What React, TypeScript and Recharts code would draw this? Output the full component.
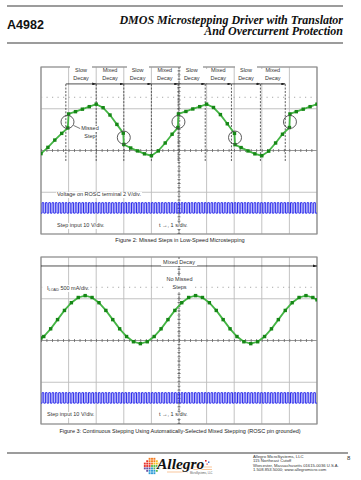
import React from 'react';
import {
  ComposedChart,
  Line,
  XAxis,
  YAxis,
  CartesianGrid,
  ReferenceLine,
  ReferenceDot,
  ReferenceArea,
} from 'recharts';

// scope screen: 10 x 8 divisions, values below are in divisions

const xTicks = [0, 1, 2, 3, 4, 5, 6, 7, 8, 9, 10];
const yTicks = [0, 1, 2, 3, 4, 5, 6, 7, 8];

// figure 2 - load current with missed steps (pairs at the jumps)
const fig2Time = [
  0, 0.25, 0.5, 0.75, 0.97, 1.0, 1.25, 1.5, 1.75, 2.0, 2.25, 2.5, 2.75, 2.98, 3.0, 3.25,
  3.5, 3.75, 4.0, 4.25, 4.5, 4.75, 4.96, 4.98, 5.25, 5.5, 5.75, 6.0, 6.25, 6.5, 6.75, 7.01,
  7.03, 7.25, 7.5, 7.75, 8.0, 8.25, 8.5, 8.75, 9.0, 9.02, 9.25, 9.5, 9.75, 10,
];
const fig2Current = [
  3.85, 4.15, 4.5, 4.82, 5.08, 5.75, 5.86, 5.98, 6.1, 6.22, 6.05, 5.7, 5.25, 4.83, 4.29, 4.12,
  3.98, 3.84, 3.75, 3.98, 4.36, 4.78, 5.1, 5.75, 5.87, 5.99, 6.1, 6.22, 6.06, 5.72, 5.28, 4.82,
  4.28, 4.14, 3.98, 3.84, 3.75, 3.97, 4.36, 4.78, 5.1, 5.75, 5.86, 5.98, 6.1, 6.22,
];
const fig2DecayEdges = [0.9, 2.0, 3.0, 4.0, 4.97, 5.95, 6.9, 7.95, 8.85];
const fig2DecayNames = ['Slow', 'Mixed', 'Slow', 'Mixed', 'Slow', 'Mixed', 'Slow', 'Mixed'];
const missedTime = [0.96, 3.0, 4.98, 7.03, 9.02];
const missedLevel = [5.37, 4.62, 5.37, 4.62, 5.37];

// figure 3 - load current, no missed steps
const fig3Time = [
  0, 0.1, 0.35, 0.6, 0.85, 1.1, 1.35, 1.6, 1.85, 2.1, 2.35, 2.6, 2.85, 3.1, 3.35, 3.6,
  3.85, 4.1, 4.35, 4.6, 4.85, 5.1, 5.35, 5.6, 5.85, 6.1, 6.35, 6.6, 6.85, 7.1, 7.35, 7.6,
  7.85, 8.1, 8.35, 8.6, 8.85, 9.1, 9.35, 9.6, 9.85, 10,
];
const fig3Current = [
  4.12, 4.19, 4.56, 5.0, 5.44, 5.81, 6.06, 6.15, 6.06, 5.81, 5.44, 5.0, 4.56, 4.19, 3.94, 3.85,
  3.94, 4.19, 4.56, 5.0, 5.44, 5.81, 6.06, 6.15, 6.06, 5.81, 5.44, 5.0, 4.56, 4.19, 3.94, 3.85,
  3.94, 4.19, 4.56, 5.0, 5.44, 5.81, 6.06, 6.15, 6.06, 5.95,
];

// step input pulse train (rising edges)
const stepRise = [
  0.04, 0.16, 0.28, 0.4, 0.52, 0.64, 0.76, 0.88, 1.0, 1.12, 1.24, 1.36, 1.48, 1.6, 1.72, 1.84,
  1.96, 2.08, 2.2, 2.32, 2.44, 2.56, 2.68, 2.8, 2.92, 3.04, 3.16, 3.28, 3.4, 3.52, 3.64, 3.76,
  3.88, 4.0, 4.12, 4.24, 4.36, 4.48, 4.6, 4.72, 4.84, 4.96, 5.08, 5.2, 5.32, 5.44, 5.56, 5.68,
  5.8, 5.92, 6.04, 6.16, 6.28, 6.4, 6.52, 6.64, 6.76, 6.88, 7.0, 7.12, 7.24, 7.36, 7.48, 7.6,
  7.72, 7.84, 7.96, 8.08, 8.2, 8.32, 8.44, 8.56, 8.68, 8.8, 8.92, 9.04, 9.16, 9.28, 9.4, 9.52,
  9.64, 9.76, 9.88,
];
const pulseHigh = 1.5;
const pulseLow = 1.0;
const pulseWidth = 0.06;

const pulseData: { t: number; v: number }[] = [{ t: 0, v: pulseLow }];
stepRise.forEach((r) => {
  pulseData.push({ t: r, v: pulseHigh }, { t: r + pulseWidth, v: pulseLow });
});
pulseData.push({ t: 10, v: pulseLow });

const fig2Data = fig2Time.map((t, i) => ({ t, v: fig2Current[i] }));
const fig3Data = fig3Time.map((t, i) => ({ t, v: fig3Current[i] }));

const PLOT_LEFT = 41;
const PLOT_W = 276;
const PLOT_H = 167;
const M = 10;
const GREEN = '#45b545';
const DARK_GREEN = '#168716';
const BLUE = '#2c2cec';

const px = (t: number) => PLOT_LEFT + (t * PLOT_W) / 10;

const squareDot = (p: any) => {
  if (p.cx == null || p.cy == null) return <g key={`n${p.index}`} />;
  return (
    <rect
      key={`d${p.index}`}
      x={p.cx - 1.7}
      y={p.cy - 1.7}
      width={3.4}
      height={3.4}
      fill={DARK_GREEN}
    />
  );
};

const Scope = ({ top, arrowId, children }: any) => (
  <div style={{ position: 'absolute', left: PLOT_LEFT - M, top: top - M }}>
    <ComposedChart
      width={PLOT_W + 2 * M}
      height={PLOT_H + 2 * M}
      margin={{ top: M, right: M, bottom: M, left: M }}
    >
      <defs>
        <marker
          id={arrowId}
          markerWidth={4}
          markerHeight={3}
          refX={4}
          refY={1.5}
          orient="auto"
          markerUnits="userSpaceOnUse"
        >
          <path d="M0,0 L4,1.5 L0,3 z" fill="#222" />
        </marker>
      </defs>
      <CartesianGrid stroke="#bcbcbc" strokeWidth={0.9} />
      <XAxis type="number" dataKey="t" domain={[0, 10]} ticks={xTicks} hide allowDataOverflow />
      <YAxis type="number" dataKey="v" domain={[0, 8]} ticks={yTicks} hide allowDataOverflow />
      <ReferenceLine y={6.55} stroke="#a8a8a8" strokeDasharray="1.2 4.3" />
      <ReferenceLine y={4} stroke="#8a8a8a" strokeWidth={0.8} />
      <ReferenceLine y={4} stroke="#666" strokeWidth={3} strokeDasharray="0.8 4.72" />
      <ReferenceLine x={5} stroke="#555" strokeWidth={0.9} strokeDasharray="1.6 1.2" />
      <ReferenceLine x={5} stroke="#666" strokeWidth={3} strokeDasharray="0.8 3.375" />
      {children}
      <ReferenceArea
        x1={0}
        x2={10}
        y1={0}
        y2={8}
        fill="none"
        fillOpacity={0}
        stroke="#8c8c8c"
        strokeWidth={1.2}
        ifOverflow="visible"
      />
    </ComposedChart>
  </div>
);

const Txt = ({ x, y, s = 5.5, c = '#333', align = 'left', bg, children, style }: any) => (
  <div
    style={{
      position: 'absolute',
      left: x,
      top: y - s / 2,
      fontSize: s,
      lineHeight: 1,
      color: c,
      whiteSpace: 'nowrap',
      background: bg,
      transform:
        align === 'center' ? 'translateX(-50%)' : align === 'right' ? 'translateX(-100%)' : undefined,
      ...style,
    }}
  >
    {children}
  </div>
);

const Box = ({ x, y, w, h }: any) => (
  <div style={{ position: 'absolute', left: x, top: y, width: w, height: h, background: '#fff' }} />
);

const Logo = () => {
  const cols = ['#e8322a', '#f47c20', '#f6c21c', '#5bb848', '#2a9bd7', '#6a4fa1'];
  const dots: any[] = [];
  for (let i = -3; i <= 3; i++) {
    for (let j = -3; j <= 3; j++) {
      if (i * i + j * j > 10) continue;
      const a = Math.atan2(i, j);
      const k = Math.floor(((a + Math.PI) / (2 * Math.PI)) * 6) % 6;
      dots.push(
        <rect key={`${i}_${j}`} x={12 + j * 2.4 - 0.95} y={14 + i * 2.4 - 0.95} width={1.9} height={1.9} fill={cols[k]} />
      );
    }
  }
  return (
    <svg width={80} height={26} style={{ position: 'absolute', left: 140, top: 452 }}>
      {dots}
      <line x1={27} y1={15} x2={72} y2={15} stroke="#f5a25a" strokeWidth={0.6} />
      <line x1={27} y1={17.5} x2={72} y2={17.5} stroke="#f5a25a" strokeWidth={0.6} />
      <line x1={27} y1={20} x2={48} y2={20} stroke="#f5a25a" strokeWidth={0.6} />
      <text
        x={17}
        y={17}
        fontFamily='"Liberation Serif", serif'
        fontStyle="italic"
        fontWeight="bold"
        fontSize={15.5}
        fill="#111"
        stroke="#fff"
        strokeWidth={1.6}
        paintOrder="stroke"
      >
        Allegro
      </text>
      <rect x={65} y={8} width={1.6} height={1.6} fill="#e02a2a" />
      <rect x={68} y={9.5} width={1.4} height={1.4} fill="#2a6ad7" />
      <rect x={66.5} y={11.5} width={1.2} height={1.2} fill="#e02a2a" />
      <text x={50} y={21.5} fontFamily='"Liberation Sans", sans-serif' fontSize={2.6} fill="#555">
        MicroSystems, LLC
      </text>
    </svg>
  );
};

export default function App() {
  const f2ArrowY = 7.19;
  return (
    <div
      style={{
        position: 'absolute',
        left: 0,
        top: 0,
        width: 361,
        height: 480,
        background: '#fff',
        overflow: 'hidden',
        fontFamily: '"Liberation Sans", Arial, sans-serif',
      }}
    >
      {/* header */}
      <div style={{ position: 'absolute', left: 7, top: 5, width: 336, height: 2, background: '#9c9c9c' }} />
      <Txt x={7} y={25} s={12.5} c="#111" style={{ fontWeight: 'bold' }}>
        A4982
      </Txt>
      <div
        style={{
          position: 'absolute',
          right: 361 - 343,
          top: 14.8,
          fontSize: 12,
          lineHeight: '10.7px',
          textAlign: 'right',
          color: '#111',
          whiteSpace: 'nowrap',
          fontFamily: '"Liberation Serif", serif',
          fontStyle: 'italic',
          fontWeight: 'bold',
        }}
      >
        DMOS Microstepping Driver with Translator
        <br />
        And Overcurrent Protection
      </div>
      <div style={{ position: 'absolute', left: 7, top: 42, width: 336, height: 2, background: '#9c9c9c' }} />

      {/* figure 2 */}
      <Scope top={67} arrowId="arr2">
        {fig2DecayEdges.map((b, i) => (
          <ReferenceLine
            key={`e${i}`}
            segment={[
              { x: b, y: 3.5 },
              { x: b, y: f2ArrowY },
            ]}
            stroke="#4a4a4a"
            strokeWidth={0.9}
            strokeDasharray="2 1.4"
          />
        ))}
        {fig2DecayEdges.slice(0, -1).map((b, i) => (
          <ReferenceLine
            key={`a${i}`}
            segment={[
              { x: b, y: f2ArrowY },
              { x: fig2DecayEdges[i + 1], y: f2ArrowY },
            ]}
            stroke="#222"
            strokeWidth={0.8}
            markerEnd="url(#arr2)"
          />
        ))}
        <Line
          data={pulseData}
          dataKey="v"
          type="stepAfter"
          stroke={BLUE}
          strokeWidth={1}
          dot={false}
          isAnimationActive={false}
        />
        <Line
          data={fig2Data}
          dataKey="v"
          type="linear"
          stroke={GREEN}
          strokeWidth={1.8}
          dot={squareDot}
          isAnimationActive={false}
        />
        {missedTime.map((t, i) => (
          <ReferenceDot
            key={`m${i}`}
            x={t}
            y={missedLevel[i]}
            r={6.5}
            fill="none"
            stroke="#4a4a4a"
            strokeWidth={0.9}
          />
        ))}
        <ReferenceLine
          segment={[
            { x: 1.18, y: 5.2 },
            { x: 1.42, y: 5.05 },
          ]}
          stroke="#555"
          strokeWidth={0.8}
        />
      </Scope>

      {fig2DecayNames.map((n, i) => {
        const cx = (px(fig2DecayEdges[i]) + px(fig2DecayEdges[i + 1])) / 2;
        const slow = n === 'Slow';
        return (
          <React.Fragment key={`l${i}`}>
            <Box x={cx - (slow ? 11 : 12)} y={slow ? 63 : 68.6} w={slow ? 22 : 24} h={slow ? 19.5 : 14} />
            <Txt x={cx} y={71} align="center">
              {n}
            </Txt>
            <Txt x={cx} y={79} align="center">
              Decay
            </Txt>
          </React.Fragment>
        );
      })}
      <Txt x={90} y={129} align="center" bg="#fff">
        Missed
      </Txt>
      <Txt x={90} y={136.5} align="center" bg="#fff">
        Step
      </Txt>
      <Txt x={56} y={195} bg="#fff" style={{ padding: '0 1px' }}>
        Voltage on ROSC terminal 2 V/div.
      </Txt>
      <Txt x={56} y={226} bg="#fff" style={{ padding: '0 1px' }}>
        Step input 10 V/div.
      </Txt>
      <Txt x={158} y={226} bg="#fff" style={{ padding: '0 1px' }}>
        t →, 1 s/div.
      </Txt>
      <Txt x={180} y={241} s={5.6} c="#222" align="center">
        Figure 2: Missed Steps in Low-Speed Microstepping
      </Txt>

      {/* figure 3 */}
      <Scope top={257} arrowId="arr3">
        <ReferenceLine
          segment={[
            { x: 0, y: 7.57 },
            { x: 10, y: 7.57 },
          ]}
          stroke="#222"
          strokeWidth={0.8}
          markerEnd="url(#arr3)"
        />
        <Line
          data={pulseData}
          dataKey="v"
          type="stepAfter"
          stroke={BLUE}
          strokeWidth={1}
          dot={false}
          isAnimationActive={false}
        />
        <Line
          data={fig3Data}
          dataKey="v"
          type="linear"
          stroke={GREEN}
          strokeWidth={1.8}
          dot={squareDot}
          isAnimationActive={false}
        />
      </Scope>

      <Txt x={179} y={262} align="center" bg="#fff" style={{ padding: '0.5px 2px' }}>
        Mixed Decay
      </Txt>
      <Box x={165} y={275.5} w={29} h={16.5} />
      <Txt x={179.5} y={280} align="center">
        No Missed
      </Txt>
      <Txt x={179.5} y={288} align="center">
        Steps
      </Txt>
      <Txt x={46} y={288} bg="#fff" style={{ padding: '0.5px 1px' }}>
        I<span style={{ fontSize: 3.8, position: 'relative', top: 1.3 }}>LOAD</span> 500 mA/div.
      </Txt>
      <Txt x={46} y={415} bg="#fff" style={{ padding: '0 1px' }}>
        Step input 10 V/div.
      </Txt>
      <Txt x={158} y={415} bg="#fff" style={{ padding: '0 1px' }}>
        t →, 1 s/div.
      </Txt>
      <Txt x={180} y={432} s={5.5} c="#222" align="center">
        Figure 3: Continuous Stepping Using Automatically-Selected Mixed Stepping (ROSC pin grounded)
      </Txt>

      {/* footer */}
      <div style={{ position: 'absolute', left: 7, top: 452, width: 341, height: 1.6, background: '#9c9c9c' }} />
      <Logo />
      <Txt x={253} y={457} s={4.2} c="#333">
        Allegro MicroSystems, LLC
      </Txt>
      <Txt x={253} y={461.5} s={4.2} c="#333">
        115 Northeast Cutoff
      </Txt>
      <Txt x={253} y={466} s={4.2} c="#333">
        Worcester, Massachusetts 01615-0036 U.S.A.
      </Txt>
      <Txt x={253} y={470.5} s={4.2} c="#333">
        1.508.853.5000; www.allegromicro.com
      </Txt>
      <Txt x={347} y={457.5} s={6} c="#333">
        8
      </Txt>
    </div>
  );
}
